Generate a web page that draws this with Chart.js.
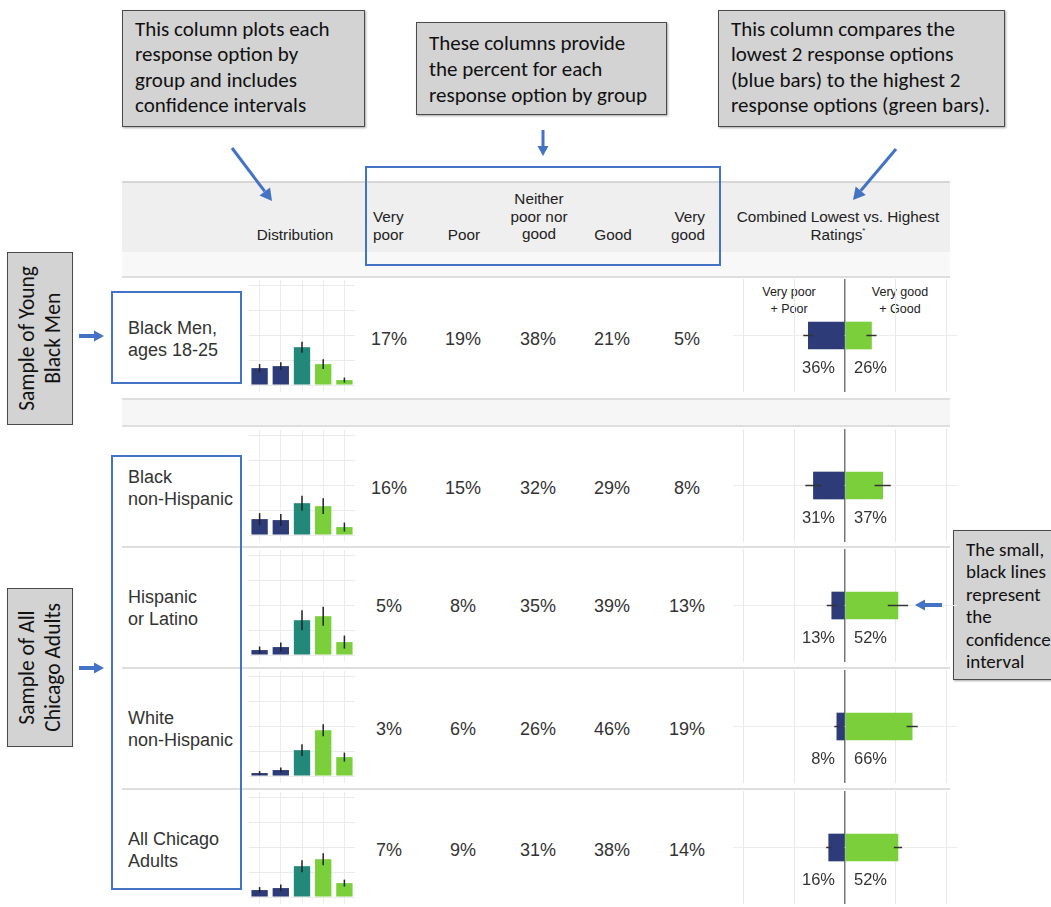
<!DOCTYPE html>
<html>
<head>
<meta charset="utf-8">
<script src="https://cdn.jsdelivr.net/npm/chart.js@4.4.1/dist/chart.umd.min.js"></script>
<style>
  body { margin: 0; width: 1051px; height: 907px; position: relative; overflow: hidden; background: #fff;
         font-family: "Liberation Sans", Arial, sans-serif; color: #333; }
  .abs { position: absolute; }
  .note { position: absolute; box-sizing: border-box; background: #d3d3d3; border: 1px solid #4a4a4a;
          box-shadow: 1px 1px 2px rgba(0,0,0,.35); font-family: Carlito, Calibri, Lato, sans-serif;
          font-size: 21px; color: #111; padding-left: 12px; white-space: nowrap; }
  .band { position: absolute; left: 122px; width: 828px; }
  .hline { position: absolute; left: 122px; width: 828px; height: 2px; background: #dedede; }
  .hd { position: absolute; font-size: 15.3px; line-height: 17.5px; color: #222; white-space: nowrap; }
  .pct { position: absolute; font-size: 18px; transform: translate(-50%, -50%); white-space: nowrap; }
  .grp { position: absolute; left: 128px; font-size: 18px; line-height: 22px; white-space: nowrap; }
  .side { position: absolute; box-sizing: border-box; background: #d3d3d3; border: 1px solid #4a4a4a;
          display: flex; align-items: center; justify-content: center; }
  .side div { writing-mode: vertical-rl; transform: rotate(180deg); font-family: Carlito, Calibri, Lato, sans-serif;
              font-size: 21.5px; line-height: 26px; text-align: center; color: #111; white-space: nowrap; }
  .blue { position: absolute; box-sizing: border-box; border: 2px solid #4472c4; }
  canvas { position: absolute; }
</style>
</head>
<body>
<script>
// categories
const groups = [
  ['Black Men,', 'ages 18-25'],
  ['Black', 'non-Hispanic'],
  ['Hispanic', 'or Latino'],
  ['White', 'non-Hispanic'],
  ['All Chicago', 'Adults']
];
const responses = ['Very poor', 'Poor', 'Neither poor nor good', 'Good', 'Very good'];

// percent for each response option, by group
const pctBlackMen   = [17, 19, 38, 21, 5];
const pctBlackNH    = [16, 15, 32, 29, 8];
const pctHispanic   = [5, 8, 35, 39, 13];
const pctWhiteNH    = [3, 6, 26, 46, 19];
const pctAllChicago = [7, 9, 31, 38, 14];

// half width of the confidence intervals (percentage points)
const ciBlackMen   = [4, 4, 5.5, 5, 2.5];
const ciBlackNH    = [6, 6, 7.5, 8, 4.5];
const ciHispanic   = [3.5, 4.5, 10, 9.5, 6.5];
const ciWhiteNH    = [2, 2.5, 6, 6, 4.5];
const ciAllChicago = [3, 3.5, 6, 6, 3.5];

// combined lowest 2 vs highest 2
const lowest  = [36, 31, 13, 8, 16];
const highest = [26, 37, 52, 66, 52];
const ciLowest  = [5, 8, 5, 2.5, 2.5];
const ciHighest = [5, 8, 10, 5.5, 4];

const distTicks = [0, 25, 50, 75, 100];
const combTicks = [-100, -50, 0, 50, 100];

const pctRows = [pctBlackMen, pctBlackNH, pctHispanic, pctWhiteNH, pctAllChicago];
const ciRows = [ciBlackMen, ciBlackNH, ciHispanic, ciWhiteNH, ciAllChicago];

const NAVY = '#2d3b78', TEAL = '#22897a', GREEN = '#7acf3a';
const barColors = [NAVY, NAVY, TEAL, GREEN, GREEN];

// layout
const rowTops = [278, 428, 548, 669, 790];
const pctY = [339, 488, 606, 729, 850];
const colX = [389, 463, 538, 612, 687];
const groupY = [328, 477, 597, 718, 839];

function add(html) { document.body.insertAdjacentHTML('beforeend', html); }

// table bands
add('<div class="band" style="top:181px;height:2px;background:#d6d6d6"></div>');
add('<div class="band" style="top:183px;height:69px;background:#efefef"></div>');
add('<div class="band" style="top:252px;height:24px;background:#f8f8f8"></div>');
add('<div class="hline" style="top:276px"></div>');
add('<div class="band" style="top:398px;height:28px;background:#f6f6f6"></div>');
add('<div class="hline" style="top:398px"></div>');
add('<div class="hline" style="top:425px"></div>');
[546, 667, 788].forEach(y => add(`<div class="hline" style="top:${y}px"></div>`));

// header labels
add('<div class="hd" style="left:295px;top:226px;transform:translateX(-50%)">Distribution</div>');
add('<div class="hd" style="left:373px;top:208px">Very<br>poor</div>');
add('<div class="hd" style="left:464px;top:226px;transform:translateX(-50%)">Poor</div>');
add('<div class="hd" style="left:539px;top:190px;transform:translateX(-50%);text-align:center">Neither<br>poor nor<br>good</div>');
add('<div class="hd" style="left:613px;top:226px;transform:translateX(-50%)">Good</div>');
add('<div class="hd" style="left:705px;top:208px;transform:translateX(-100%);text-align:right">Very<br>good</div>');
add('<div class="hd" style="left:838px;top:208px;transform:translateX(-50%);text-align:center">Combined Lowest vs. Highest<br>Ratings<span style="font-size:8px;position:relative;top:-7px">*</span></div>');
add('<div class="blue" style="left:365px;top:166px;width:356px;height:100px"></div>');

// percent columns + group labels
pctRows.forEach((row, r) => {
  row.forEach((v, i) => add(`<div class="pct" style="left:${colX[i]}px;top:${pctY[r]}px">${v}%</div>`));
  add(`<div class="grp" style="top:${groupY[r] - 11}px">${groups[r][0]}<br>${groups[r][1]}</div>`);
});
add('<div class="blue" style="left:111px;top:291px;width:131px;height:93px"></div>');
add('<div class="blue" style="left:111px;top:455px;width:131px;height:435px"></div>');

// side boxes
add('<div class="side" style="left:7px;top:252px;width:66px;height:173px"><div>Sample of Young<br>Black Men</div></div>');
add('<div class="side" style="left:7px;top:588px;width:66px;height:159px"><div>Sample of All<br>Chicago Adults</div></div>');

// annotation notes
add('<div class="note" style="left:122px;top:10px;width:243px;height:117px;padding-top:6px;line-height:25.3px">This column plots each<br>response option by<br>group and includes<br>confidence intervals</div>');
add('<div class="note" style="left:416px;top:22px;width:251px;height:93px;padding-top:7px;line-height:26px">These columns provide<br>the percent for each<br>response option by group</div>');
add('<div class="note" style="left:718px;top:10px;width:287px;height:117px;padding-top:6px;line-height:25.3px">This column compares the<br>lowest 2 response options<br>(blue bars) to the highest 2<br>response options (green bars).</div>');
add('<div class="note" style="left:953px;top:530px;width:110px;height:150px;padding-top:8px;line-height:22.4px;font-size:19px">The small,<br>black lines<br>represent<br>the<br>confidence<br>interval</div>');

// small labels over the combined column
add('<div class="abs" style="left:789px;top:284px;transform:translateX(-50%);font-size:12.5px;line-height:17px;text-align:center;color:#222">Very poor<br>+ Poor</div>');
add('<div class="abs" style="left:900px;top:284px;transform:translateX(-50%);font-size:12.5px;line-height:17px;text-align:center;color:#222">Very good<br>+ Good</div>');

// arrows
function arrow(x1, y1, x2, y2, w, head) {
  const dx = x2 - x1, dy = y2 - y1, len = Math.hypot(dx, dy);
  const ux = dx / len, uy = dy / len, px = -uy, py = ux;
  const bx = x2 - ux * head, by = y2 - uy * head;
  return `<line x1="${x1}" y1="${y1}" x2="${bx}" y2="${by}" stroke="#4472c4" stroke-width="${w}"/>` +
    `<polygon fill="#4472c4" points="${x2},${y2} ${bx + px * head * 0.55},${by + py * head * 0.55} ${bx - px * head * 0.55},${by - py * head * 0.55}"/>`;
}
add('<svg class="abs" style="left:0;top:0;z-index:5" width="1051" height="907">' +
  arrow(232, 148, 272, 201, 3, 12) +
  arrow(543, 130, 543, 156, 3, 10) +
  arrow(896, 149, 853, 200, 3, 12) +
  arrow(79, 336, 104, 336, 4, 10) +
  arrow(79, 668, 104, 668, 4, 10) +
  arrow(942, 605, 915, 605, 4, 10) +
  '</svg>');

function canvasAt(x, y, w, h) {
  const c = document.createElement('canvas');
  c.width = w; c.height = h;
  c.style.left = x + 'px'; c.style.top = y + 'px';
  document.body.appendChild(c);
  return c;
}

const distCI = {
  id: 'distCI',
  afterDatasetsDraw(chart) {
    const { ctx, scales: { y } } = chart;
    const ci = chart.options.plugins.distCI.ci;
    const ds = chart.data.datasets[0].data;
    chart.getDatasetMeta(0).data.forEach((bar, i) => {
      ctx.save();
      ctx.strokeStyle = '#222';
      ctx.lineWidth = 1.5;
      ctx.beginPath();
      ctx.moveTo(bar.x, y.getPixelForValue(ds[i] - ci[i]));
      ctx.lineTo(bar.x, y.getPixelForValue(ds[i] + ci[i]));
      ctx.stroke();
      ctx.restore();
    });
  }
};

const combExtras = {
  id: 'combExtras',
  afterDatasetsDraw(chart) {
    const { ctx, scales: { x } } = chart;
    const o = chart.options.plugins.combExtras;
    const yc = chart.getDatasetMeta(0).data[0].y;
    ctx.save();
    ctx.strokeStyle = '#333';
    ctx.lineWidth = 1.5;
    [[-o.low, o.ciLow], [o.high, o.ciHigh]].forEach(([v, c]) => {
      ctx.beginPath();
      ctx.moveTo(x.getPixelForValue(v - c), yc);
      ctx.lineTo(x.getPixelForValue(v + c), yc);
      ctx.stroke();
    });
    const x0 = x.getPixelForValue(0);
    ctx.fillStyle = '#333';
    ctx.font = '16.5px "Liberation Sans", Arial, sans-serif';
    ctx.textBaseline = 'middle';
    ctx.textAlign = 'right';
    ctx.fillText(o.low + '%', x0 - 10, yc + 33);
    ctx.textAlign = 'left';
    ctx.fillText(o.high + '%', x0 + 9, yc + 33);
    ctx.restore();
  }
};

rowTops.forEach((top, r) => {
  new Chart(canvasAt(249, top + 2, 106, 112), {
    type: 'bar',
    data: {
      labels: responses,
      datasets: [{ data: pctRows[r], backgroundColor: barColors, borderWidth: 0,
                   barPercentage: 0.77, categoryPercentage: 1 }]
    },
    options: {
      responsive: false,
      animation: false,
      layout: { padding: 0 },
      plugins: { legend: { display: false }, tooltip: { enabled: false }, distCI: { ci: ciRows[r] } },
      scales: {
        x: { ticks: { display: false }, border: { display: false },
             grid: { offset: false, drawTicks: false, color: '#ebebeb' } },
        y: { min: -7, max: 105.5, ticks: { display: false }, border: { display: false },
             afterBuildTicks: axis => { axis.ticks = distTicks.map(v => ({ value: v })); },
             grid: { drawTicks: false, color: '#ebebeb' } }
      }
    },
    plugins: [distCI]
  });

  new Chart(canvasAt(733, top + 1, 224, 116), {
    type: 'bar',
    data: {
      labels: [groups[r].join(' ')],
      datasets: [
        { data: [-lowest[r]], backgroundColor: NAVY, barThickness: 27 },
        { data: [highest[r]], backgroundColor: GREEN, barThickness: 27 }
      ]
    },
    options: {
      indexAxis: 'y',
      responsive: false,
      animation: false,
      layout: { padding: { bottom: 3 } },
      plugins: { legend: { display: false }, tooltip: { enabled: false },
                 combExtras: { low: lowest[r], high: highest[r], ciLow: ciLowest[r], ciHigh: ciHighest[r] } },
      scales: {
        x: { stacked: true, min: -110, max: 110, ticks: { display: false }, border: { display: false },
             afterBuildTicks: axis => { axis.ticks = combTicks.map(v => ({ value: v })); },
             grid: { drawTicks: false,
                     color: c => c.tick && c.tick.value === 0 ? '#777' : '#e8e8e8',
                     lineWidth: c => c.tick && c.tick.value === 0 ? 1.5 : 1 } },
        y: { stacked: true, ticks: { display: false }, border: { display: false },
             grid: { offset: false, drawTicks: false, color: '#ececec' } }
      }
    },
    plugins: [combExtras]
  });
});
</script>
</body>
</html>
